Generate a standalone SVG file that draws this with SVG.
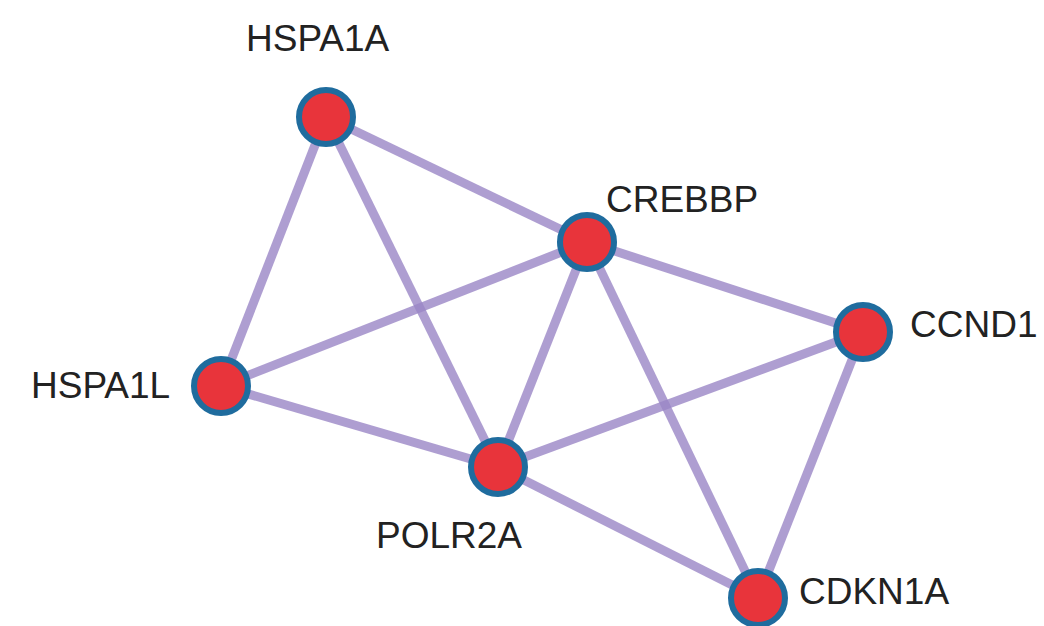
<svg xmlns="http://www.w3.org/2000/svg" width="1044" height="626" viewBox="0 0 1044 626">
  <style>
    .edge { stroke: #9a86c6; stroke-width: 9; stroke-opacity: 0.8; fill: none; }
    .node circle { fill: #e8343b; stroke: #1f6c9e; stroke-width: 6; }
    .node text { font-family: "Liberation Sans", Arial, sans-serif; font-size: 37px; fill: #222; }
  </style>
  <rect width="1044" height="626" fill="#ffffff"/>
  <g id="edges">
    <line class="edge" x1="326" y1="117" x2="221" y2="386"/>
    <line class="edge" x1="326" y1="117" x2="498" y2="467"/>
    <line class="edge" x1="326" y1="117" x2="587" y2="242"/>
    <line class="edge" x1="587" y1="242" x2="221" y2="386"/>
    <line class="edge" x1="587" y1="242" x2="498" y2="467"/>
    <line class="edge" x1="587" y1="242" x2="863" y2="332"/>
    <line class="edge" x1="587" y1="242" x2="758" y2="598"/>
    <line class="edge" x1="221" y1="386" x2="498" y2="467"/>
    <line class="edge" x1="498" y1="467" x2="863" y2="332"/>
    <line class="edge" x1="498" y1="467" x2="758" y2="598"/>
    <line class="edge" x1="863" y1="332" x2="758" y2="598"/>
  </g>
  <g id="HSPA1A" class="node">
    <circle cx="326" cy="117" r="27"/>
    <text x="246" y="51">HSPA1A</text>
  </g>
  <g id="CREBBP" class="node">
    <circle cx="587" cy="242" r="27"/>
    <text x="606" y="212">CREBBP</text>
  </g>
  <g id="CCND1" class="node">
    <circle cx="863" cy="332" r="27"/>
    <text x="910" y="337">CCND1</text>
  </g>
  <g id="HSPA1L" class="node">
    <circle cx="221" cy="386" r="27"/>
    <text x="31" y="398">HSPA1L</text>
  </g>
  <g id="POLR2A" class="node">
    <circle cx="498" cy="467" r="27"/>
    <text x="376" y="548">POLR2A</text>
  </g>
  <g id="CDKN1A" class="node">
    <circle cx="758" cy="598" r="27"/>
    <text x="799" y="604">CDKN1A</text>
  </g>
</svg>
